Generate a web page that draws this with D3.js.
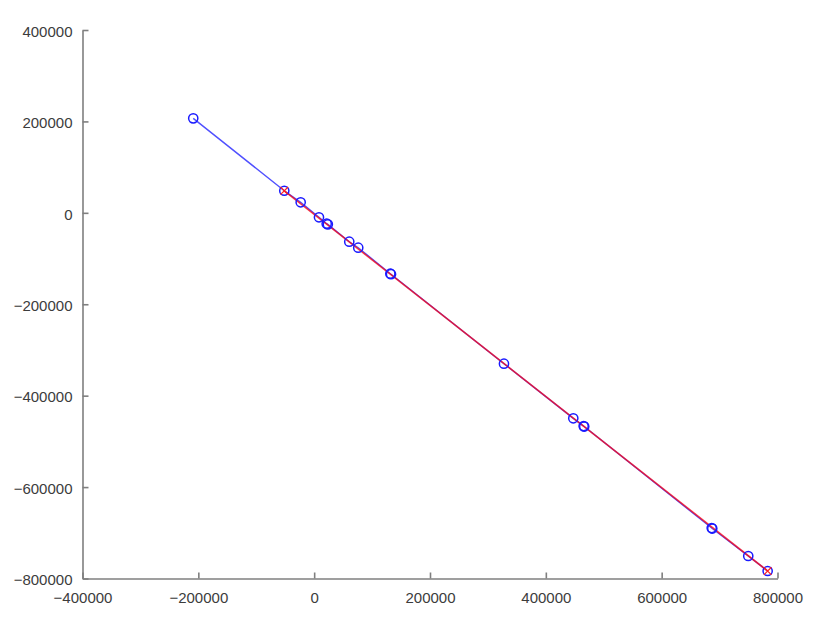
<!DOCTYPE html>
<html>
<head>
<meta charset="utf-8">
<script src="https://cdn.jsdelivr.net/npm/d3@7"></script>
<style>
  html, body { margin: 0; padding: 0; background: #fff; }
  svg { display: block; }
  .axis text { font-family: "Liberation Sans", Arial, Helvetica, sans-serif; font-size: 15px; fill: #3c3c3c; }
  .axis path, .axis line { stroke: #7f7f7f; stroke-width: 1.6; }
</style>
</head>
<body>
<svg id="chart" width="830" height="642"></svg>
<script>
// ---- data ----
const xTicks = [-400000, -200000, 0, 200000, 400000, 600000, 800000];
const yTicks = [-800000, -600000, -400000, -200000, 0, 200000, 400000];

const blueX = [-208800, -51600, -23300, 8300, 21600, 23600, 60600, 76100, 131500, 132700,
               327700, 447400, 465300, 466300, 686400, 687400, 749500, 783000];
const blueY = [206700, 48300, 23000, -9800, -23800, -25200, -63200, -76300, -133200, -134300,
               -330100, -449600, -466600, -467600, -689600, -690800, -750800, -783600];

const redX = [-51600, 783000];
const redY = [48300, -783600];

// ---- chart ----
const svg = d3.select("#chart");
const x = d3.scaleLinear().domain([-400000, 800000]).range([82.5, 777.5]);
const y = d3.scaleLinear().domain([-800000, 400000]).range([578.5, 30]);

const xAxis = d3.axisBottom(x).tickValues(xTicks).tickFormat(d3.format("d"))
  .tickSizeInner(-6).tickSizeOuter(0).tickPadding(14);
const yAxis = d3.axisLeft(y).tickValues(yTicks).tickFormat(d3.format("d"))
  .tickSizeInner(-6).tickSizeOuter(0).tickPadding(10);

const gx = svg.append("g").attr("class", "axis").attr("transform", `translate(0,${y(-800000)})`).call(xAxis);
const gy = svg.append("g").attr("class", "axis").attr("transform", `translate(${x(-400000)},0)`).call(yAxis);
gy.selectAll("text").attr("dy", "0.42em");
gx.selectAll("text").attr("dy", "0.71em");

const blue = blueX.map((v, i) => [v, blueY[i]]);
const red = redX.map((v, i) => [v, redY[i]]);

const line = d3.line().x(d => x(d[0])).y(d => y(d[1]));

svg.append("path").datum(blue).attr("d", line)
  .attr("fill", "none").attr("stroke", "#5050ff").attr("stroke-width", 1.4);
svg.append("path").datum(red).attr("d", line)
  .attr("fill", "none").attr("stroke", "rgba(240,10,30,0.82)").attr("stroke-width", 1.6);

svg.append("g").selectAll("circle").data(blue).join("circle")
  .attr("cx", d => x(d[0])).attr("cy", d => y(d[1])).attr("r", 4.6)
  .attr("fill", "none").attr("stroke", "#1a1aff").attr("stroke-width", 1.5);

const s = 3.8;
const gr = svg.append("g");
red.forEach(d => {
  const cx = x(d[0]), cy = y(d[1]);
  gr.append("path")
    .attr("d", `M${cx - s},${cy - s}L${cx + s},${cy + s}M${cx - s},${cy + s}L${cx + s},${cy - s}`)
    .attr("stroke", "#ff2020").attr("stroke-width", 1.2).attr("fill", "none");
});
</script>
</body>
</html>
